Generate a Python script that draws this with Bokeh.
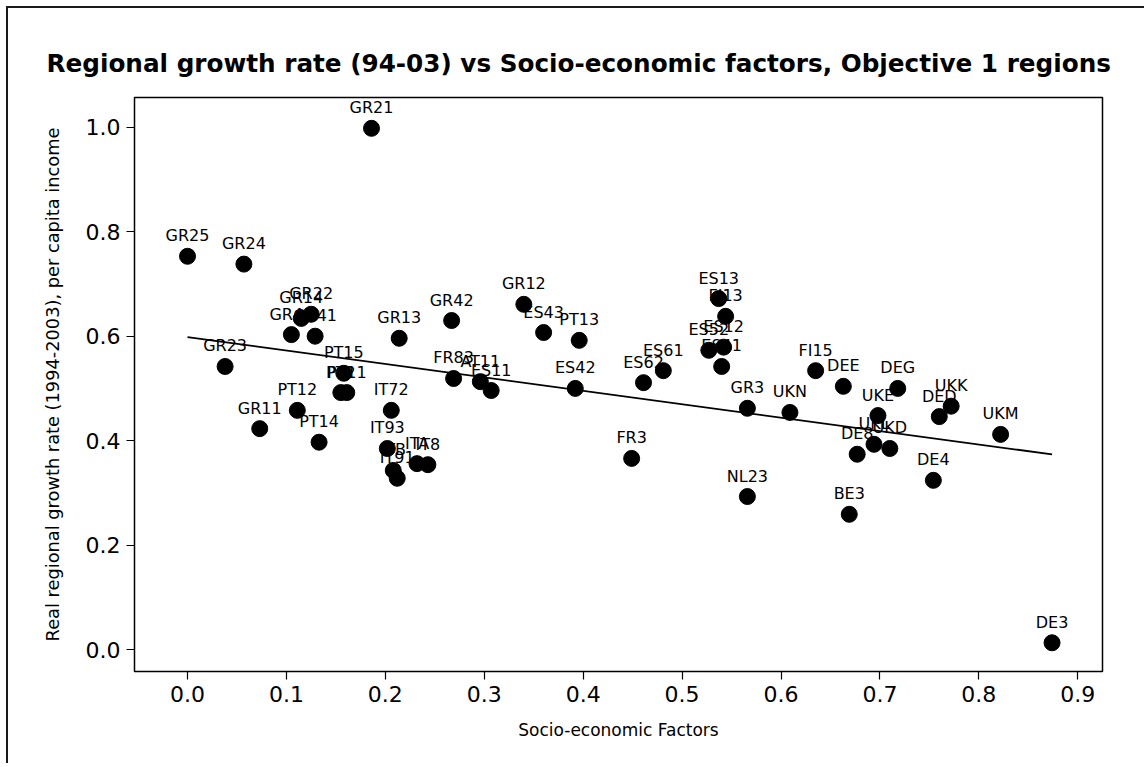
import numpy as np
from bokeh.plotting import figure
from bokeh.models import ColumnDataSource, LabelSet, FixedTicker, NumeralTickFormatter, Title, Range1d
from bokeh.core.properties import value
from bokeh.embed import file_html
from bokeh.resources import INLINE

regions = ["GR21", "GR25", "GR24", "GR14", "GR22", "GR43", "GR41", "GR23", "GR13", "GR42",
           "PT15", "PT2", "PT11", "PT12", "GR11", "PT14", "IT72", "IT93", "ITB", "IT91",
           "ITA", "IT8", "GR12", "ES43", "PT13", "ES13", "FI13", "ES52", "ES12", "ES41",
           "ES61", "ES62", "ES42", "ES11", "AT11", "FR83", "FR3", "GR3", "UKN", "NL23",
           "FI15", "DEE", "DEG", "UKE", "UKK", "DED", "DE8", "UKL", "UKD", "DE4",
           "BE3", "UKM", "DE3"]
socio = [0.186, 0.000, 0.057, 0.115, 0.125, 0.105, 0.129, 0.038, 0.214, 0.267,
         0.158, 0.155, 0.161, 0.111, 0.073, 0.133, 0.206, 0.202, 0.208, 0.212,
         0.232, 0.243, 0.340, 0.360, 0.396, 0.537, 0.544, 0.527, 0.542, 0.540,
         0.481, 0.461, 0.392, 0.307, 0.296, 0.269, 0.449, 0.566, 0.609, 0.566,
         0.635, 0.663, 0.718, 0.698, 0.772, 0.760, 0.677, 0.694, 0.710, 0.754,
         0.669, 0.822, 0.874]
growth = [0.998, 0.753, 0.738, 0.634, 0.642, 0.603, 0.600, 0.542, 0.596, 0.630,
          0.529, 0.492, 0.492, 0.458, 0.423, 0.397, 0.458, 0.385, 0.343, 0.328,
          0.356, 0.354, 0.661, 0.607, 0.592, 0.672, 0.638, 0.573, 0.579, 0.542,
          0.534, 0.511, 0.500, 0.496, 0.513, 0.519, 0.366, 0.462, 0.454, 0.293,
          0.534, 0.504, 0.500, 0.448, 0.466, 0.446, 0.374, 0.393, 0.385, 0.324,
          0.259, 0.412, 0.013]

x_ticks = [0.0, 0.1, 0.2, 0.3, 0.4, 0.5, 0.6, 0.7, 0.8, 0.9]
y_ticks = [0.0, 0.2, 0.4, 0.6, 0.8, 1.0]

FONT = "DejaVu Sans"

p = figure(width=1138, height=757, output_backend="svg", toolbar_location=None,
           x_range=Range1d(-0.0536, 0.925), y_range=Range1d(-0.042, 1.057),
           min_border_left=126, min_border_right=44, min_border_top=89, min_border_bottom=94)
p.styles = {"border-left": "2px solid #1a1a1a", "border-top": "2px solid #1a1a1a",
            "margin-left": "6px", "margin-top": "6px"}

p.grid.visible = False
p.outline_line_color = "black"
p.outline_line_width = 1.5
p.outline_line_alpha = 1.0
p.background_fill_color = "white"
p.border_fill_color = "white"

t = Title(text="Regional growth rate (94-03) vs Socio-economic factors, Objective 1 regions",
          align="left", offset=-88, text_font=FONT, text_font_size="24.7px",
          text_font_style="bold", text_color="black", standoff=39)
p.add_layout(t, "above")

for ax in (p.xaxis[0], p.yaxis[0]):
    ax.axis_line_color = None
    ax.major_tick_line_color = "black"
    ax.major_tick_line_width = 1.2
    ax.major_tick_out = 8
    ax.major_tick_in = 0
    ax.minor_tick_line_color = None
    ax.major_label_text_font = FONT
    ax.major_label_text_font_size = "22px"
    ax.major_label_text_color = "black"
    ax.axis_label_text_font = FONT
    ax.axis_label_text_font_size = "17px"
    ax.axis_label_text_font_style = "normal"
    ax.axis_label_text_color = "black"
    ax.formatter = NumeralTickFormatter(format="0.0")

p.xaxis.ticker = FixedTicker(ticks=x_ticks)
p.yaxis.ticker = FixedTicker(ticks=y_ticks)
# axis bounds set so that the axis titles sit where the reference puts them
p.xaxis.bounds = (0.0, 0.904)
p.yaxis.bounds = (0.0, 1.118)
p.xaxis.axis_label = "Socio-economic Factors"
p.yaxis.axis_label = "Real regional growth rate (1994-2003), per capita income"
p.yaxis.axis_label_text_font_size = "17.8px"
p.xaxis.axis_label_standoff = 15
p.yaxis.axis_label_standoff = 20
p.xaxis.major_label_standoff = 6
p.yaxis.major_label_standoff = 6

# least squares fit line
xs = np.array(socio)
ys = np.array(growth)
slope, intercept = np.polyfit(xs, ys, 1)
lx = [xs.min(), xs.max()]
ly = [intercept + slope * v for v in lx]
p.line(lx, ly, line_color="black", line_width=1.8)

src = ColumnDataSource(dict(x=socio, y=growth, name=regions))
p.scatter("x", "y", source=src, size=16, fill_color="black", line_color="black")

labels = LabelSet(x="x", y="y", text="name", source=src, text_align="center",
                  text_baseline="alphabetic", y_offset=15, text_font=value(FONT),
                  text_font_size=value("16px"), text_color="black")
p.add_layout(labels)

open("out.html", "w").write(file_html(p, INLINE))
